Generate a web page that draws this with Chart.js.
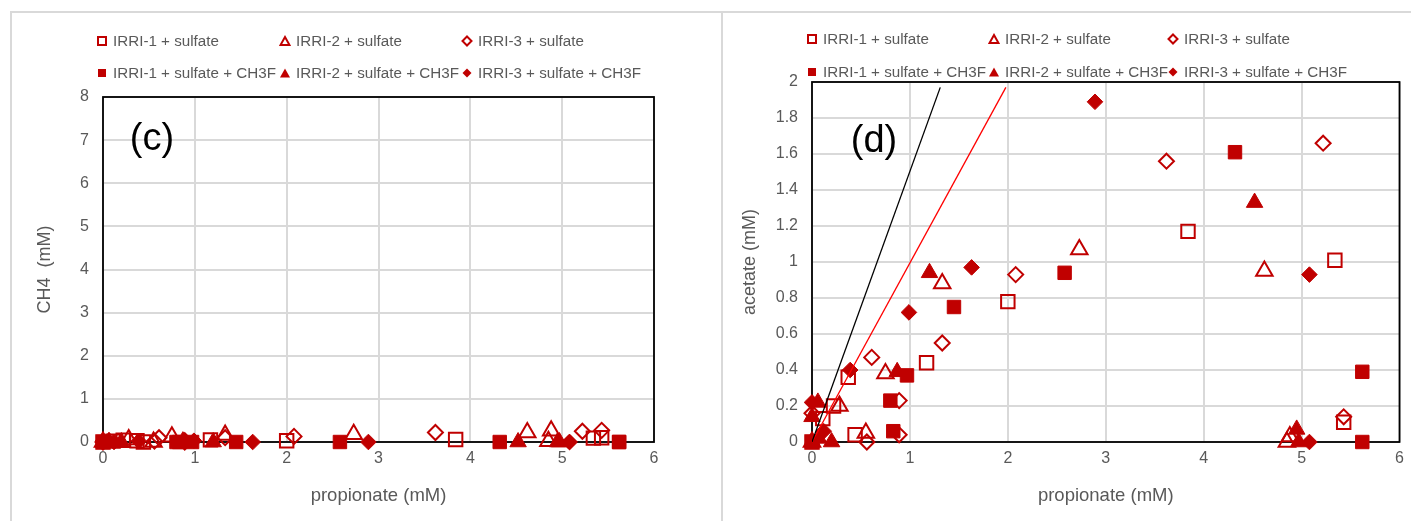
<!DOCTYPE html>
<html>
<head>
<meta charset="utf-8">
<script src="https://cdn.jsdelivr.net/npm/chart.js@4.4.1/dist/chart.umd.min.js"></script>
<style>
body{margin:0;width:1411px;height:521px;background:#fff;position:relative;overflow:hidden;font-family:"Liberation Sans",Arial,sans-serif;}
.frame{position:absolute;background:#d9d9d9;}
canvas{position:absolute;}
.leg{position:absolute;font-size:15.2px;color:#595959;white-space:nowrap;line-height:18px;height:18px;}
.leg svg{position:absolute;top:3px;left:-17px;}
.tag{position:absolute;font-size:38px;color:#000;line-height:44px;transform:translate(-50%,-50%);}
</style>
</head>
<body>
<div class="frame" style="left:10px;top:11px;width:1401px;height:2px"></div>
<div class="frame" style="left:10px;top:11px;width:2px;height:510px"></div>
<div class="frame" style="left:721px;top:11px;width:2px;height:510px"></div>
<canvas id="grafC" width="700" height="507" style="left:10px;top:14px"></canvas>
<canvas id="grafD" width="688" height="507" style="left:723px;top:14px"></canvas>
<div class="tag" style="left:152px;top:137px">(c)</div>
<div class="tag" style="left:874px;top:139px">(d)</div>
<div id="legendas"></div>
<script>
// series names
const serieNomes = ['IRRI-1 + sulfate','IRRI-2 + sulfate','IRRI-3 + sulfate',
    'IRRI-1 + sulfate + CH3F','IRRI-2 + sulfate + CH3F','IRRI-3 + sulfate + CH3F'];

// IRRI-1 + sulfate
const propI1S = [0, 0.11, 0.22, 0.37, 0.44, 1.17, 2.0, 3.84, 5.34, 5.43];
const ch4I1S  = [0, 0.02, 0.04, 0.03, 0, 0.05, 0.03, 0.06, 0.09, 0.1];
const acetI1S = [0, 0.13, 0.2, 0.36, 0.04, 0.44, 0.78, 1.17, 1.01, 0.11];
// IRRI-2 + sulfate
const propI2S = [0, 0.28, 0.55, 0.75, 1.33, 2.73, 4.62, 4.85, 4.88];
const ch4I2S  = [0, 0.06, 0, 0.12, 0.16, 0.18, 0.22, 0.02, 0.26];
const acetI2S = [0, 0.2, 0.05, 0.38, 0.88, 1.07, 0.95, 0, 0.03];
// IRRI-3 + sulfate
const propI3S = [0, 0.56, 0.61, 0.89, 0.89, 1.33, 2.08, 3.62, 5.22, 5.43];
const ch4I3S  = [0, 0.02, 0.1, 0.03, 0, 0.1, 0.13, 0.22, 0.25, 0.27];
const acetI3S = [0.16, 0, 0.47, 0.23, 0.04, 0.55, 0.93, 1.56, 1.66, 0.14];
// IRRI-1 + sulfate + CH3F
const propI1F = [0, 0.8, 0.83, 0.97, 1.45, 2.58, 4.32, 5.62, 5.62];
const ch4I1F  = [0, 0, 0, 0, 0, 0, 0, 0, 0];
const acetI1F = [0, 0.23, 0.06, 0.37, 0.75, 0.94, 1.61, 0.39, 0];
// IRRI-2 + sulfate + CH3F
const propI2F = [0, 0, 0.06, 0.07, 0.2, 0.87, 1.2, 4.52, 4.95, 4.97];
const ch4I2F  = [0, 0, 0, 0, 0, 0.02, 0, 0, 0, 0];
const acetI2F = [0.14, 0, 0.22, 0.02, 0, 0.39, 0.94, 1.33, 0.07, 0];
// IRRI-3 + sulfate + CH3F
const propI3F = [0, 0.12, 0.39, 0.99, 1.63, 2.89, 5.08, 5.08];
const ch4I3F  = [0.03, 0, 0.02, 0.03, 0, 0, 0, 0];
const acetI3F = [0.22, 0.06, 0.4, 0.72, 0.97, 1.89, 0.93, 0];

// reference lines on (d)
const linhaPretaX = [0, 1.31];
const linhaPretaY = [0, 1.97];
const linhaVermX  = [0, 1.98];
const linhaVermY  = [0, 1.97];

const COR = {vermelho:'#c00000', linhaVerm:'#ff0000', preto:'#000000', grade:'#d9d9d9', texto:'#595959'};
const FORMAS = ['rect','triangle','rectRot','rect','triangle','rectRot'];
const RAIOS = [9.5, 9.5, 7.5, 9.5, 9.5, 7.8];

function pontos(xs, ys){
    return xs.map((x, i) => ({x: x, y: ys[i]}));
}

function series(listaY){
    const listaX = [propI1S, propI2S, propI3S, propI1F, propI2F, propI3F];
    return listaY.map((ys, i) => {
        let aberto = i < 3;
        return {
            label: serieNomes[i],
            data: pontos(listaX[i], ys),
            pointStyle: FORMAS[i],
            pointRadius: RAIOS[i],
            pointHoverRadius: RAIOS[i],
            backgroundColor: aberto ? 'rgba(0,0,0,0)' : COR.vermelho,
            borderColor: COR.vermelho,
            borderWidth: aberto ? 2 : 1,
            order: 10 - i,
            clip: false
        };
    });
}

function linha(xs, ys, cor){
    return {
        label: '', data: pontos(xs, ys), showLine: true, pointRadius: 0,
        borderColor: cor, borderWidth: 1.3, backgroundColor: cor, order: 0
    };
}

const bordaArea = {
    id: 'bordaArea',
    beforeDatasetsDraw(chart){
        const a = chart.chartArea, ctx = chart.ctx;
        ctx.save();
        ctx.strokeStyle = COR.preto;
        ctx.lineWidth = 1.8;
        ctx.strokeRect(a.left, a.top, a.right - a.left, a.bottom - a.top);
        ctx.restore();
    }
};

function config(datasets, yMax, yStep, yTitulo, pad, yLarg){
    return {
        type: 'scatter',
        data: {datasets: datasets},
        options: {
            responsive: false,
            animation: false,
            events: [],
            layout: {padding: pad},
            plugins: {legend: {display: false}, tooltip: {enabled: false}},
            scales: {
                x: {
                    min: 0, max: 6,
                    ticks: {stepSize: 1, color: COR.texto, font: {size: 16}, padding: 7},
                    grid: {color: COR.grade, lineWidth: 2, drawTicks: false},
                    border: {display: false},
                    title: {display: true, text: 'propionate (mM)', color: COR.texto, font: {size: 18.5}, padding: {top: 0, bottom: 4}},
                    afterFit(s){ s.height = 69; }
                },
                y: {
                    min: 0, max: yMax,
                    ticks: {stepSize: yStep, color: COR.texto, font: {size: 16}, padding: 14,
                        callback: v => Number(v.toFixed(1)).toString()},
                    grid: {color: COR.grade, lineWidth: 2, drawTicks: false},
                    border: {display: false},
                    title: {display: true, text: yTitulo, color: COR.texto, font: {size: 18}, padding: {top: 0, bottom: 0}},
                    afterFit(s){ s.width = yLarg; }
                }
            }
        },
        plugins: [bordaArea]
    };
}

function chartC(){
    let ctx = document.getElementById('grafC');
    let ds = series([ch4I1S, ch4I2S, ch4I3S, ch4I1F, ch4I2F, ch4I3F]);
    new Chart(ctx, config(ds, 8, 1, 'CH4  (mM)', {left: 24, right: 56, top: 83, bottom: 10}, 69));
}

function chartD(){
    let ctx = document.getElementById('grafD');
    let ds = series([acetI1S, acetI2S, acetI3S, acetI1F, acetI2F, acetI3F]);
    ds.push(linha(linhaPretaX, linhaPretaY, COR.preto));
    ds.push(linha(linhaVermX, linhaVermY, COR.linhaVerm));
    new Chart(ctx, config(ds, 2, 0.2, 'acetate (mM)', {left: 16, right: 9, top: 68, bottom: 10}, 73));
}

function marcador(i){
    let aberto = i < 3;
    let fill = aberto ? 'none' : COR.vermelho;
    let sw = aberto ? 2 : 0;
    let f = '';
    if (FORMAS[i] == 'rect') f = '<rect x="2" y="2" width="8" height="8"/>';
    if (FORMAS[i] == 'triangle') f = aberto ? '<polygon points="6,2 10.5,10 1.5,10"/>' : '<polygon points="6,1.5 11,10.5 1,10.5"/>';
    if (FORMAS[i] == 'rectRot') f = '<polygon points="6,1.5 10.5,6 6,10.5 1.5,6"/>';
    return '<svg width="12" height="12" viewBox="0 0 12 12" fill="' + fill + '" stroke="' + COR.vermelho + '" stroke-width="' + sw + '">' + f + '</svg>';
}

function legenda(colunas, linhas){
    let box = document.getElementById('legendas');
    for (let i = 0; i < serieNomes.length; i++){
        let d = document.createElement('div');
        d.className = 'leg';
        d.style.left = colunas[i % 3] + 'px';
        d.style.top = (linhas[Math.floor(i / 3)] - 9) + 'px';
        d.innerHTML = marcador(i) + serieNomes[i];
        box.appendChild(d);
    }
}

chartC();
chartD();
legenda([113, 296, 478], [41, 73]);
legenda([823, 1005, 1184], [39, 71.5]);
</script>
</body>
</html>
